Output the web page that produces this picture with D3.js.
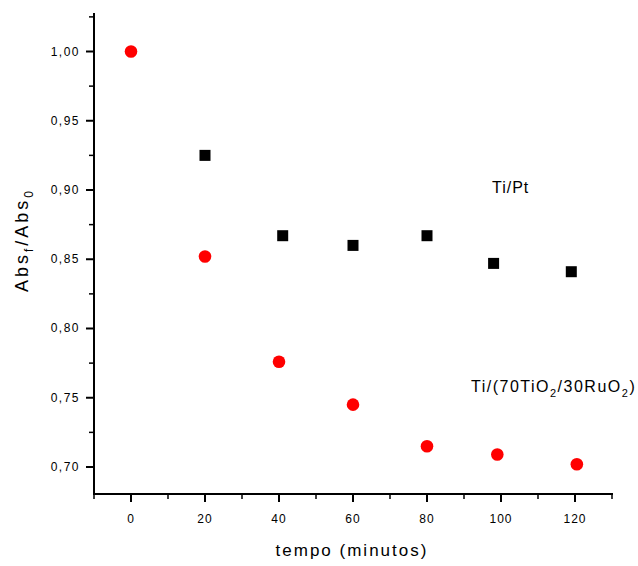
<!DOCTYPE html>
<html>
<head>
<meta charset="utf-8">
<script src="https://cdn.jsdelivr.net/npm/d3@7"></script>
<style>
  body { margin: 0; background: #fff; }
  text { font-family: "Liberation Sans", Arial, sans-serif; fill: #000; }
</style>
</head>
<body>
<script>
// -- data --
var tiPtX = [20, 41, 60, 80, 98, 119];
var tiPt = [0.925, 0.867, 0.860, 0.867, 0.847, 0.841];
var tiRuX = [0, 20, 40, 60, 80, 99, 120.5];
var tiRu = [1.000, 0.852, 0.776, 0.745, 0.715, 0.709, 0.702];
var yTicks = [0.70, 0.75, 0.80, 0.85, 0.90, 0.95, 1.00];
var xTicks = [0, 20, 40, 60, 80, 100, 120];

var W = 638, H = 566;
var pLeft = 94, pRight = 612, pTop = 13, pBottom = 494;

var svg = d3.select('body').append('svg')
  .attr('width', W).attr('height', H);

var x = d3.scaleLinear().domain([-10, 130]).range([pLeft, pRight]);
var y = d3.scaleLinear().domain([0.6805, 1.0278]).range([pBottom, pTop]);

var br = d3.formatLocale({decimal: ',', thousands: '.', grouping: [3], currency: ['', '']});
var fmt = br.format('.2f');

// minor ticks
var xMinor = d3.range(-10, 131, 20);
var yMinor = [0.725, 0.775, 0.825, 0.875, 0.925, 0.975, 1.025];

var gx = svg.append('g').attr('transform', 'translate(0,' + pBottom + ')');
gx.append('line').attr('x1', pLeft).attr('x2', pRight + 1)
  .attr('stroke', '#000').attr('stroke-width', 2);
gx.selectAll('.maj').data(xTicks).enter().append('line')
  .attr('x1', x).attr('x2', x).attr('y1', 0).attr('y2', 8)
  .attr('stroke', '#000').attr('stroke-width', 2);
gx.selectAll('.min').data(xMinor).enter().append('line')
  .attr('x1', x).attr('x2', x).attr('y1', 0).attr('y2', 5)
  .attr('stroke', '#000').attr('stroke-width', 1.5);
gx.selectAll('text').data(xTicks).enter().append('text')
  .attr('x', x).attr('y', 29)
  .attr('text-anchor', 'middle')
  .style('font-size', '12px').style('letter-spacing', '1px')
  .text(function(d){ return d; });

var gy = svg.append('g').attr('transform', 'translate(' + pLeft + ',0)');
gy.append('line').attr('y1', pTop).attr('y2', pBottom + 1)
  .attr('stroke', '#000').attr('stroke-width', 2);
gy.selectAll('.maj').data(yTicks).enter().append('line')
  .attr('y1', y).attr('y2', y).attr('x1', 0).attr('x2', -8)
  .attr('stroke', '#000').attr('stroke-width', 2);
gy.selectAll('.min').data(yMinor).enter().append('line')
  .attr('y1', y).attr('y2', y).attr('x1', 0).attr('x2', -5)
  .attr('stroke', '#000').attr('stroke-width', 1.5);
gy.selectAll('text').data(yTicks).enter().append('text')
  .attr('x', -14).attr('y', function(d){ return y(d) + 4; })
  .attr('text-anchor', 'end')
  .style('font-size', '12px').style('letter-spacing', '1.5px')
  .text(function(d){ return fmt(d); });

// points
svg.selectAll('rect.pt').data(tiPt).enter().append('rect')
  .attr('x', function(d, i){ return x(tiPtX[i]) - 5.5; })
  .attr('y', function(d){ return y(d) - 5.5; })
  .attr('width', 11).attr('height', 11)
  .attr('fill', '#000');

svg.selectAll('circle.ru').data(tiRu).enter().append('circle')
  .attr('cx', function(d, i){ return x(tiRuX[i]); })
  .attr('cy', function(d){ return y(d); })
  .attr('r', 6.3)
  .attr('fill', '#ff0000');

// series labels
svg.append('text').attr('x', 492).attr('y', 193)
  .style('font-size', '16px').style('letter-spacing', '1px').text('Ti/Pt');

var lab = svg.append('text').attr('x', 471).attr('y', 392)
  .style('font-size', '16px').style('letter-spacing', '1.5px');
lab.append('tspan').text('Ti/(70TiO');
lab.append('tspan').attr('dy', 5).style('font-size', '11px').text('2');
lab.append('tspan').attr('dy', -5).text('/30RuO');
lab.append('tspan').attr('dy', 5).style('font-size', '11px').text('2');
lab.append('tspan').attr('dy', -5).text(')');

// axis titles
svg.append('text').attr('x', 352).attr('y', 556)
  .attr('text-anchor', 'middle')
  .style('font-size', '17px').style('letter-spacing', '2px')
  .text('tempo (minutos)');

var yl = svg.append('text')
  .attr('transform', 'translate(28,240) rotate(-90)')
  .attr('text-anchor', 'middle')
  .style('font-size', '18px').style('letter-spacing', '3px');
yl.append('tspan').text('Abs');
yl.append('tspan').attr('dy', 5).style('font-size', '12px').text('f');
yl.append('tspan').attr('dy', -5).text('/Abs');
yl.append('tspan').attr('dy', 5).style('font-size', '12px').text('0');
</script>
</body>
</html>
